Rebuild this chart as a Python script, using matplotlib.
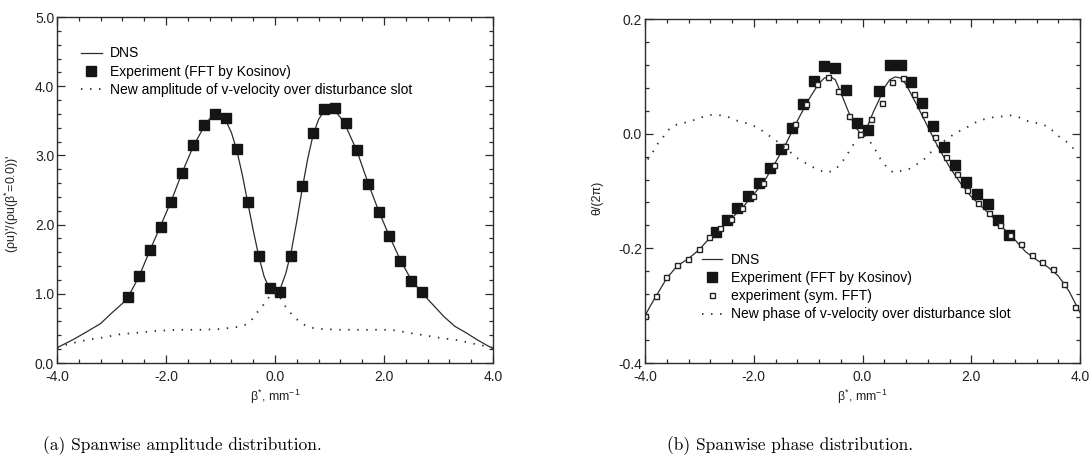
import matplotlib
matplotlib.use("Agg")
import matplotlib.pyplot as plt
from matplotlib.ticker import MultipleLocator, FormatStrFormatter

plt.rcParams['font.family'] = ['Liberation Sans', 'DejaVu Sans']
plt.rcParams['mathtext.fontset'] = 'custom'
plt.rcParams['mathtext.rm'] = 'Liberation Sans'
plt.rcParams['mathtext.it'] = 'Liberation Sans'
plt.rcParams['axes.unicode_minus'] = False

# ---------------- (a) amplitude ----------------
amp_dns_x = [-4.0, -3.9, -3.7, -3.5, -3.2, -3.0, -2.8, -2.7, -2.5, -2.3, -2.1, -1.9, -1.7, -1.5,
             -1.3, -1.2, -1.1, -1.0, -0.9, -0.8, -0.7, -0.6, -0.5, -0.4, -0.3, -0.2, -0.1, 0.0,
             0.1, 0.2, 0.3, 0.4, 0.5, 0.6, 0.7, 0.8, 0.9, 1.0, 1.1, 1.2, 1.3, 1.5, 1.7, 1.9,
             2.1, 2.3, 2.5, 2.7, 2.9, 3.1, 3.3, 3.5, 3.7, 3.9, 4.0]
amp_dns_y = [0.22, 0.26, 0.34, 0.43, 0.57, 0.72, 0.86, 0.95, 1.24, 1.62, 1.98, 2.35, 2.76, 3.13,
             3.42, 3.53, 3.58, 3.58, 3.50, 3.33, 3.07, 2.72, 2.32, 1.92, 1.55, 1.25, 1.07, 1.00,
             1.08, 1.30, 1.62, 2.05, 2.52, 2.95, 3.30, 3.52, 3.64, 3.67, 3.64, 3.55, 3.42, 3.07,
             2.62, 2.20, 1.83, 1.49, 1.20, 1.01, 0.84, 0.67, 0.53, 0.44, 0.34, 0.25, 0.21]

amp_exp_x = [-2.7, -2.5, -2.3, -2.1, -1.9, -1.7, -1.5, -1.3, -1.1, -0.9, -0.7, -0.5, -0.3, -0.1,
             0.1, 0.3, 0.5, 0.7, 0.9, 1.1, 1.3, 1.5, 1.7, 1.9, 2.1, 2.3, 2.5, 2.7]
amp_exp_y = [0.95, 1.26, 1.63, 1.96, 2.33, 2.75, 3.15, 3.44, 3.60, 3.54, 3.09, 2.33, 1.55, 1.08,
             1.03, 1.55, 2.56, 3.33, 3.67, 3.69, 3.47, 3.08, 2.59, 2.18, 1.84, 1.47, 1.18, 1.02]

amp_new_x = [-4.0, -3.85, -3.6, -3.39, -3.15, -2.81, -2.62, -2.23, -1.80, -1.38, -1.01, -0.70,
             -0.55, -0.43, -0.34, -0.24, -0.15, -0.06, 0.0, 0.06, 0.15, 0.24, 0.34, 0.45, 0.58,
             0.73, 0.89, 1.19, 1.50, 1.80, 2.05, 2.23, 2.42, 2.66, 2.97, 3.34, 3.64, 3.89, 4.0]
amp_new_y = [0.22, 0.26, 0.31, 0.34, 0.37, 0.42, 0.43, 0.46, 0.48, 0.48, 0.49, 0.52,
             0.55, 0.62, 0.72, 0.81, 0.91, 1.00, 1.03, 1.00, 0.86, 0.77, 0.67, 0.60, 0.53,
             0.50, 0.49, 0.48, 0.48, 0.48, 0.48, 0.47, 0.44, 0.41, 0.37, 0.33, 0.28, 0.24, 0.22]

# ---------------- (b) phase ----------------
ph_dns_x = [-4.0, -3.9, -3.8, -3.6, -3.4, -3.2, -3.0, -2.8, -2.6, -2.4, -2.2, -2.0, -1.8, -1.6,
            -1.4, -1.2, -1.0, -0.8, -0.7, -0.6, -0.5, -0.4, -0.3, -0.2, -0.1, -0.05, 0.0, 0.1,
            0.2, 0.3, 0.4, 0.5, 0.6, 0.7, 0.8, 0.9, 1.0, 1.2, 1.4, 1.6, 1.8, 2.0, 2.2, 2.4,
            2.6, 2.8, 3.0, 3.2, 3.4, 3.6, 3.8, 4.0]
ph_dns_y = [-0.318, -0.300, -0.284, -0.252, -0.230, -0.218, -0.202, -0.181, -0.164, -0.147,
            -0.128, -0.106, -0.082, -0.050, -0.016, 0.022, 0.058, 0.088, 0.097, 0.100, 0.094,
            0.072, 0.048, 0.025, 0.008, 0.002, 0.002, 0.015, 0.038, 0.058, 0.080, 0.094, 0.099,
            0.097, 0.086, 0.068, 0.050, 0.012, -0.025, -0.058, -0.086, -0.110, -0.128, -0.146,
            -0.166, -0.185, -0.206, -0.220, -0.232, -0.248, -0.275, -0.312]

ph_exp_x = [-2.7, -2.5, -2.3, -2.1, -1.9, -1.7, -1.5, -1.3, -1.1, -0.9, -0.7, -0.5, -0.3, -0.1,
            0.1, 0.3, 0.5, 0.7, 0.9, 1.1, 1.3, 1.5, 1.7, 1.9, 2.1, 2.3, 2.5, 2.7]
ph_exp_y = [-0.172, -0.150, -0.130, -0.109, -0.086, -0.060, -0.027, 0.010, 0.051, 0.091, 0.118,
            0.115, 0.076, 0.019, 0.006, 0.075, 0.119, 0.119, 0.090, 0.053, 0.014, -0.023, -0.054,
            -0.085, -0.105, -0.122, -0.151, -0.176]

ph_sym_x = [-4.00, -3.80, -3.61, -3.41, -3.21, -3.01, -2.82, -2.62, -2.42, -2.22, -2.02, -1.83,
            -1.63, -1.43, -1.24, -1.04, -0.84, -0.64, -0.45, -0.25, -0.05, 0.15, 0.35, 0.54,
            0.74, 0.94, 1.14, 1.33, 1.53, 1.73, 1.93, 2.12, 2.32, 2.52, 2.72, 2.91, 3.11, 3.31,
            3.51, 3.70, 3.90]
ph_sym_y = [-0.318, -0.284, -0.250, -0.229, -0.219, -0.202, -0.180, -0.165, -0.149, -0.129,
            -0.109, -0.086, -0.054, -0.021, 0.016, 0.052, 0.087, 0.099, 0.075, 0.030, 0.000,
            0.025, 0.053, 0.090, 0.097, 0.070, 0.034, -0.005, -0.040, -0.070, -0.099, -0.121,
            -0.138, -0.159, -0.177, -0.193, -0.212, -0.224, -0.236, -0.263, -0.302]

ph_new_x = [-3.95, -3.86, -3.77, -3.68, -3.59, -3.47, -3.35, -3.20, -3.04, -2.91, -2.77, -2.62,
            -2.47, -2.32, -2.16, -2.01, -1.89, -1.77, -1.65, -1.52, -1.35, -1.23, -1.07, -0.92,
            -0.79, -0.65, -0.50, -0.35, -0.24, -0.14, 0.0, 0.14, 0.24, 0.33, 0.45, 0.57, 0.71,
            0.87, 0.99, 1.13, 1.25, 1.40, 1.57, 1.73, 1.86, 1.98, 2.14, 2.28, 2.42, 2.56, 2.72,
            2.87, 2.99, 3.13, 3.28, 3.42, 3.60, 3.75, 3.88, 3.95]
ph_new_y = [-0.045, -0.033, -0.018, -0.008, 0.005, 0.014, 0.018, 0.020, 0.026, 0.030, 0.033,
            0.032, 0.029, 0.023, 0.019, 0.014, 0.008, 0.000, -0.008, -0.017, -0.030, -0.041,
            -0.050, -0.058, -0.064, -0.068, -0.063, -0.046, -0.030, -0.015, 0.000, -0.014,
            -0.029, -0.044, -0.059, -0.068, -0.065, -0.061, -0.054, -0.045, -0.033, -0.020,
            -0.008, 0.002, 0.008, 0.014, 0.023, 0.026, 0.029, 0.030, 0.032, 0.029, 0.023, 0.020,
            0.017, 0.012, -0.004, -0.014, -0.026, -0.034]

LINE = '#2b2b33'
fig = plt.figure(figsize=(10.92, 4.73), dpi=100)
ax1 = fig.add_axes([57/1092, 1 - 363/473, 436/1092, 346/473])
ax2 = fig.add_axes([645/1092, 1 - 363/473, 435/1092, 344/473])

dot_style = (0, (0.8, 4.2))

ax1.plot(amp_dns_x, amp_dns_y, color=LINE, lw=0.9, label='DNS')
ax1.plot(amp_exp_x, amp_exp_y, ls='none', marker='s', ms=7, mfc='#151515', mec='#151515',
         label='Experiment (FFT by Kosinov)')
ax1.plot(amp_new_x, amp_new_y, color=LINE, lw=1.3, ls=dot_style,
         label='New amplitude of v-velocity over disturbance slot')

ax2.plot(ph_dns_x, ph_dns_y, color=LINE, lw=0.9, label='DNS')
ax2.plot(ph_exp_x, ph_exp_y, ls='none', marker='s', ms=7, mfc='#151515', mec='#151515',
         label='Experiment (FFT by Kosinov)')
ax2.plot(ph_sym_x, ph_sym_y, ls='none', marker='s', ms=3.6, mfc='white', mec='#222222', mew=1.0,
         label='experiment (sym. FFT)')
ax2.plot(ph_new_x, ph_new_y, color=LINE, lw=1.3, ls=dot_style,
         label='New phase of v-velocity over disturbance slot')

for ax in (ax1, ax2):
    ax.set_xlim(-4.0, 4.0)
    ax.xaxis.set_major_locator(MultipleLocator(2.0))
    ax.xaxis.set_minor_locator(MultipleLocator(0.4))
    ax.xaxis.set_major_formatter(FormatStrFormatter('%.1f'))
    ax.tick_params(which='both', direction='in', top=True, right=True, colors=LINE,
                   labelcolor='#222222', labelsize=10, width=0.9)
    ax.tick_params(which='major', length=6, pad=2)
    ax.tick_params(which='minor', length=3)
    ax.tick_params(axis='x', which='major', pad=5)
    for s in ax.spines.values():
        s.set_color(LINE)
        s.set_linewidth(1.0)
    ax.set_xlabel(r'β$^{*}$, mm$^{-1}$', fontsize=9, labelpad=3, color='#222222')

ax1.set_ylim(0.0, 5.0)
ax1.yaxis.set_major_locator(MultipleLocator(1.0))
ax1.yaxis.set_minor_locator(MultipleLocator(0.2))
ax1.yaxis.set_major_formatter(FormatStrFormatter('%.1f'))
ax1.set_ylabel(r"(ρu)'/(ρu(β$^{*}$=0.0))'", fontsize=9, color='#222222')
ax1.yaxis.set_label_coords(-0.083, 0.46)

ax2.set_ylim(-0.4, 0.2)
ax2.yaxis.set_major_locator(MultipleLocator(0.2))
ax2.yaxis.set_minor_locator(MultipleLocator(0.04))
ax2.yaxis.set_major_formatter(FormatStrFormatter('%.1f'))
ax2.set_ylabel('θ/(2π)', fontsize=9, color='#222222')
ax2.yaxis.set_label_coords(-0.095, 0.48)

leg_kw = dict(frameon=False, fontsize=10, handlelength=1.5, handletextpad=0.6,
              labelspacing=0.3, borderpad=0, borderaxespad=0, loc='upper left')
ax1.legend(bbox_to_anchor=(0.055, 0.915), **leg_kw)
ax2.legend(bbox_to_anchor=(0.13, 0.32), **leg_kw)

fig.text(182/1092, 1 - 446/473, '(a) Spanwise amplitude distribution.', family='cmr10',
         fontsize=12.5, ha='center', va='center')
fig.text(790/1092, 1 - 446/473, '(b) Spanwise phase distribution.', family='cmr10',
         fontsize=12.5, ha='center', va='center')

fig.savefig('out.png', dpi=100)
